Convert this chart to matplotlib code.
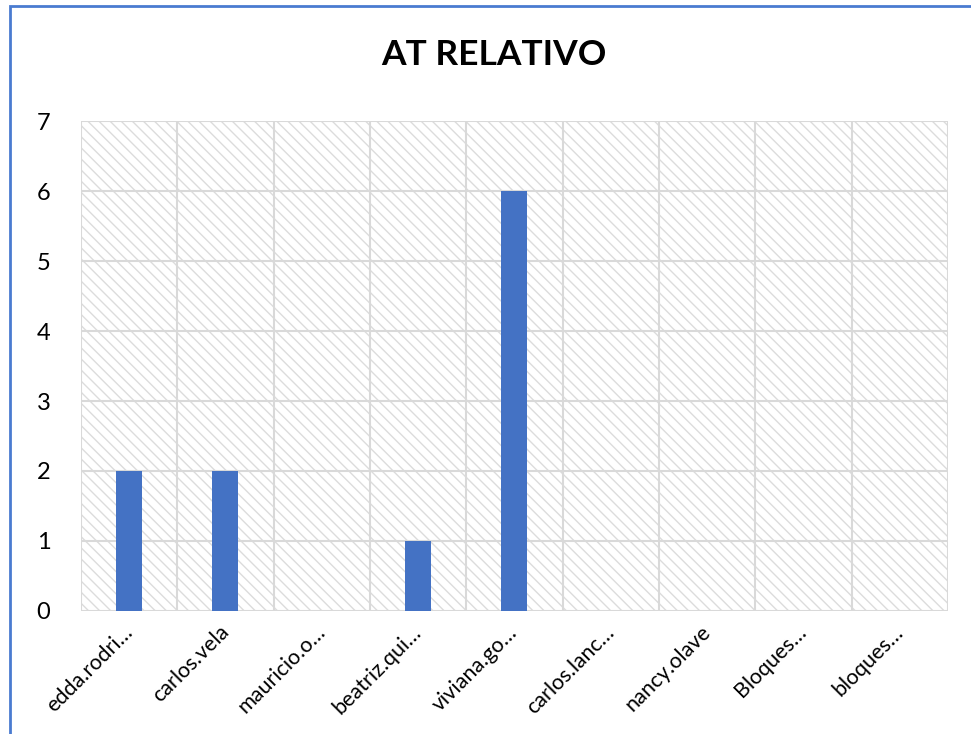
import matplotlib.pyplot as plt
from matplotlib.patches import Rectangle

plt.rcParams['font.family'] = ['Lato', 'DejaVu Sans']
plt.rcParams['hatch.linewidth'] = 1.0

names = ["edda.rodri…", "carlos.vela", "mauricio.o…", "beatriz.qui…",
         "viviana.go…", "carlos.lanc…", "nancy.olave", "Bloques…", "bloques…"]
counts = [2, 2, 0, 1, 6, 0, 0, 0, 0]
y_ticks = [0, 1, 2, 3, 4, 5, 6, 7]

bar_color = "#4472C4"
grid_color = "#d9d9d9"

fig = plt.figure(figsize=(9.71, 7.34), dpi=100)
ax = fig.add_axes([0.0834, 0.1676, 0.8929, 0.6675])

# hatched plot area
ax.patch.set_facecolor("white")
ax.add_patch(Rectangle((0, 0), 1, 1, transform=ax.transAxes, facecolor="white",
                       edgecolor="#dcdcdc", hatch="\\\\\\", linewidth=0, zorder=0))

x = list(range(len(names)))
ax.bar(x, counts, width=0.27, color=bar_color, zorder=3)

ax.set_xlim(-0.5, len(names) - 0.5)
ax.set_ylim(0, 7)
ax.set_yticks(y_ticks)
ax.set_yticklabels([str(v) for v in y_ticks], fontsize=17)

# vertical grid on category boundaries, horizontal on integer values
for b in range(len(names) + 1):
    ax.axvline(b - 0.5, color=grid_color, linewidth=1.5, zorder=1)
for v in y_ticks:
    ax.axhline(v, color=grid_color, linewidth=1.5, zorder=1)

ax.set_xticks(x)
ax.set_xticklabels(names, rotation=45, ha="right", va="center",
                   rotation_mode="anchor", fontsize=15.5)
ax.tick_params(axis="both", length=0)
ax.tick_params(axis="x", pad=13)
ax.tick_params(axis="y", pad=22)
for s in ax.spines.values():
    s.set_visible(False)

fig.text(0.509, 0.925, "AT RELATIVO", ha="center", va="center",
         fontsize=25.5, fontweight="bold")

# chart frame
fig.add_artist(Rectangle((9.5 / 971, -0.1), 1.2, (734 - 5.5) / 734 + 0.1,
                         transform=fig.transFigure, fill=False,
                         edgecolor="#4a7bd0", linewidth=2, zorder=10))

fig.savefig("out.png", dpi=100)
